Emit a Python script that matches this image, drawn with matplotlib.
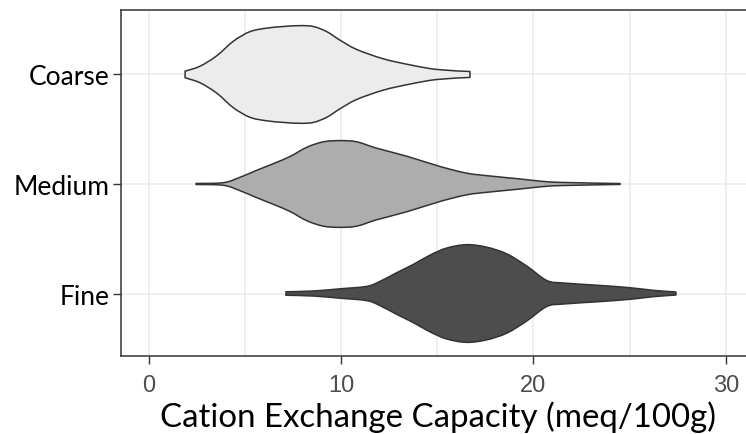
import matplotlib.pyplot as plt
import numpy as np
from matplotlib.path import Path
from matplotlib.patches import PathPatch

# Violin outlines: CEC value and half-width (in category units)
groups = ['Fine', 'Medium', 'Coarse']
positions = [1, 2, 3]
fills = ['#4d4d4d', '#adadad', '#ececec']

coarse_cec = np.array([1.90, 2.68, 3.54, 4.41, 5.27, 6.14, 7.01, 7.87, 8.56, 9.26,
                       9.95, 10.82, 12.2, 13.58, 14.97, 16.7])
coarse_hw = np.array([0.030, 0.076, 0.170, 0.304, 0.391, 0.423, 0.438, 0.446, 0.438, 0.391,
                      0.313, 0.228, 0.143, 0.088, 0.046, 0.027])

medium_cec = np.array([2.47, 3.89, 4.75, 5.62, 6.49, 7.35, 8.22, 9.08, 9.95, 10.82,
                       11.85, 13.41, 15.14, 16.53, 17.74, 19.3, 20.3, 21.33, 24.5])
medium_hw = np.array([0.005, 0.012, 0.061, 0.125, 0.186, 0.251, 0.335, 0.385, 0.396, 0.385,
                      0.327, 0.254, 0.160, 0.099, 0.073, 0.046, 0.027, 0.015, 0.004])

fine_cec = np.array([7.14, 8.56, 9.95, 11.34, 12.03, 12.89, 13.76, 14.62, 15.49, 16.53,
                     17.57, 18.61, 19.65, 20.69, 21.55, 23.28, 25.01, 26.22, 27.4])
fine_hw = np.array([0.016, 0.023, 0.043, 0.065, 0.111, 0.190, 0.266, 0.350, 0.415, 0.446,
                    0.423, 0.362, 0.251, 0.119, 0.096, 0.076, 0.053, 0.029, 0.014])

outlines = {'Fine': (fine_cec, fine_hw),
            'Medium': (medium_cec, medium_hw),
            'Coarse': (coarse_cec, coarse_hw)}

x_ticks = [0, 10, 20, 30]
x_minor = [5, 15, 25]


def smooth_segments(pts):
    # bezier control points so the outline is drawn as a smooth curve through the read points
    verts, codes = [], []
    n = len(pts)
    for i in range(n - 1):
        p0 = pts[max(i - 1, 0)]
        p1 = pts[i]
        p2 = pts[i + 1]
        p3 = pts[min(i + 2, n - 1)]
        c1 = p1 + (p2 - p0) / 6.0
        c2 = p2 - (p3 - p1) / 6.0
        verts += [c1, c2, p2]
        codes += [Path.CURVE4] * 3
    return verts, codes


def violin_path(cec, hw, pos):
    top = np.column_stack([cec, pos + hw])
    bot = np.column_stack([cec[::-1], (pos - hw)[::-1]])
    verts = [top[0]]
    codes = [Path.MOVETO]
    v, c = smooth_segments(top)
    verts += v
    codes += c
    verts.append(bot[0])
    codes.append(Path.LINETO)
    v, c = smooth_segments(bot)
    verts += v
    codes += c
    verts.append(top[0])
    codes.append(Path.CLOSEPOLY)
    return Path(np.array(verts), codes)


fig = plt.figure(figsize=(7.46, 4.35), dpi=100)
ax = fig.add_axes([0.1622, 0.1782, 0.8499, 0.7966])

for g, pos, col in zip(groups, positions, fills):
    cec, hw = outlines[g]
    patch = PathPatch(violin_path(cec, hw, pos), facecolor=col, edgecolor='#333333',
                      linewidth=1.1, joinstyle='round', zorder=3)
    ax.add_patch(patch)

ax.set_xlim(-1.43, 31.51)
ax.set_ylim(0.425, 3.589)

ax.set_xticks(x_ticks)
ax.set_xticks(x_minor, minor=True)
ax.set_yticks(positions)
ax.set_yticklabels(groups, fontfamily='Lato', fontsize=19, color='black')
for lbl in ax.get_xticklabels():
    lbl.set_fontfamily('Liberation Sans')
    lbl.set_fontsize(17)
    lbl.set_color('#4d4d4d')

ax.grid(True, which='major', color='#ebebeb', linewidth=1.1, zorder=0)
ax.grid(True, which='minor', axis='x', color='#ebebeb', linewidth=1.1, zorder=0)
ax.set_axisbelow(True)

ax.tick_params(axis='y', which='major', direction='out', length=5.5, width=1.0,
               color='#333333', pad=3)
ax.tick_params(axis='x', which='major', direction='out', length=5.5, width=1.0,
               color='#333333', pad=7)
ax.tick_params(axis='x', which='minor', length=0)
for s in ax.spines.values():
    s.set_color('#333333')
    s.set_linewidth(1.1)
ax.spines['right'].set_visible(False)

ax.set_xlabel('Cation Exchange Capacity (meq/100g)', fontfamily='Lato', fontsize=23.8,
              color='black', labelpad=3)

fig.savefig('out.png', dpi=100)
